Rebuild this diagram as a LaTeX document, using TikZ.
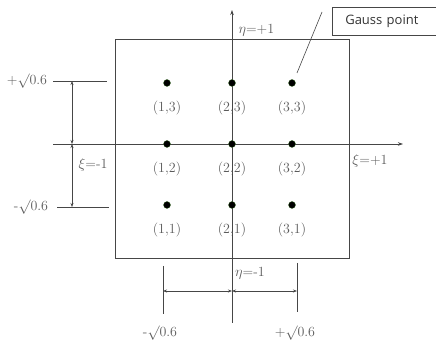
\documentclass[tikz,border=0pt]{standalone}
\usepackage{fontspec}
\newfontfamily\gaussfont{Open Sans}
\usetikzlibrary{arrows.meta, positioning}
\definecolor{lineGray}{RGB}{70,70,70}
\definecolor{textGray}{RGB}{90,90,90}
\definecolor{dotEdge}{RGB}{60,110,40}

\begin{document}
\begin{tikzpicture}[x=1pt, y=-1pt,
    axisline/.style={lineGray, line width=0.7pt, -{Stealth[length=5pt, width=3.5pt]}},
    dimline/.style={lineGray, line width=0.6pt, {Stealth[length=4pt, width=3pt]}-{Stealth[length=4pt, width=3pt]}},
    refline/.style={lineGray, line width=0.6pt},
    gpoint/.style={circle, fill=black, draw=dotEdge, line width=0.3pt, inner sep=0pt, minimum size=7pt},
    gplabel/.style={text=textGray, font=\fontsize{14}{16}\selectfont},
    dimlabel/.style={text=textGray, font=\fontsize{14}{16}\selectfont}]
    \useasboundingbox (0,0) rectangle (436,344);

    % Element square
    \draw[refline] (115,39) rectangle (349,258);

    % Axes
    \coordinate (xiL) at (53,144);
    \coordinate (xiR) at (403,144);
    \coordinate (etaB) at (232,323);
    \coordinate (etaT) at (232,10);
    \draw[axisline] (xiL) -- (xiR);
    \draw[axisline] (etaB) -- (etaT);
    \node[dimlabel, anchor=west] (etaTop) at (235,30) {$\eta$=+1};
    \node[dimlabel] (xiRight) at (370,161) {$\xi$=+1};
    \node[dimlabel] (xiLeft) at (93,165) {$\xi$=-1};
    \node[dimlabel] (etaBot) at (250,273) {$\eta$=-1};

    % Gauss points
    \foreach \i/\x in {1/167,2/232,3/292}
      \foreach \j/\y in {1/205,2/144,3/83} {
        \node[gpoint] (g\i\j) at (\x,\y) {};
        \node[gplabel, below=11pt of g\i\j] (l\i\j) {(\i,\j)};
      }

    % Gauss point callout
    \node[draw=lineGray, line width=0.6pt, anchor=west, minimum height=28pt,
          inner xsep=13pt, text width=82pt, align=left, font=\gaussfont\fontsize{13}{15}\selectfont,
          text=black!80] (gbox) at (332,21) {Gauss point};
    \coordinate (leadTop) at (322,12);
    \draw[refline] (leadTop) -- ([shift={(5,-10)}]g33.center);

    % Left dimensions
    \coordinate (upA) at (53,81);
    \coordinate (upB) at (107,81);
    \coordinate (dnA) at (57,207);
    \coordinate (dnB) at (109,207);
    \draw[refline] (upA) -- (upB);
    \draw[refline] (dnA) -- (dnB);
    \node[dimlabel] (plusL) at (27,81) {+$\surd$0.6};
    \node[dimlabel] (minusL) at (31,207) {-$\surd$0.6};
    \coordinate (vTop) at (72,81);
    \coordinate (vMid) at (72,144);
    \coordinate (vBot) at (72,207);
    \draw[dimline] (vTop) -- (vMid);
    \draw[dimline] (vMid) -- (vBot);

    % Bottom dimensions
    \coordinate (lfA) at (163,266);
    \coordinate (lfB) at (163,314);
    \coordinate (rtA) at (297,263);
    \coordinate (rtB) at (297,312);
    \draw[refline] (lfA) -- (lfB);
    \draw[refline] (rtA) -- (rtB);
    \coordinate (hLeft) at (163,291);
    \coordinate (hMid) at (232,291);
    \coordinate (hRight) at (297,291);
    \draw[dimline] (hLeft) -- (hMid);
    \draw[dimline] (hMid) -- (hRight);
    \node[dimlabel] (minusB) at (160,333) {-$\surd$0.6};
    \node[dimlabel] (plusB) at (295,333) {+$\surd$0.6};
\end{tikzpicture}
\end{document}
